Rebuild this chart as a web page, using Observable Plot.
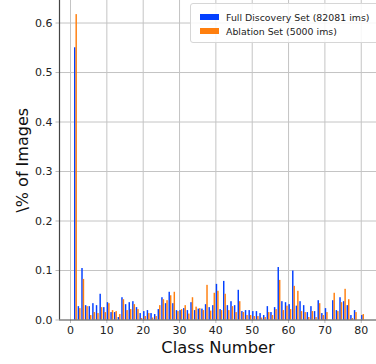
<!DOCTYPE html>
<html>
<head>
<meta charset="utf-8">
<script src="https://cdn.jsdelivr.net/npm/d3@7"></script>
<script src="https://cdn.jsdelivr.net/npm/@observablehq/plot@0.6"></script>
<style>
  html, body { margin: 0; padding: 0; background: #fff; overflow: hidden; }
  #wrap { position: relative; width: 376px; height: 364px; font-family: "DejaVu Sans", sans-serif; }
  #legend { position: absolute; left: 190px; top: 3px; width: 200px; height: 40px; box-sizing: border-box;
            border: 1px solid #d6d6d6; border-radius: 3px; background: rgba(255,255,255,0.85); }
  .item { position: absolute; left: 9px; height: 12px; display: flex; align-items: center; font-size: 9.4px; color: #222; white-space: nowrap; }
  .sw { width: 19px; height: 6px; margin-right: 7px; }
</style>
</head>
<body>
<div id="wrap"><div id="chart"></div><div id="legend"></div></div>
<script>
const classes = [1,2,3,4,5,6,7,8,9,10,11,12,13,14,15,16,17,18,19,20,
  21,22,23,24,25,26,27,28,29,30,31,32,33,34,35,36,37,38,39,40,
  41,42,43,44,45,46,47,48,49,50,51,52,53,54,55,56,57,58,59,60,
  61,62,63,64,65,66,67,68,69,70,71,72,73,74,75,76,77,78,79,80];
const fullSet = [0.550,0.027,0.104,0.029,0.027,0.033,0.029,0.052,0.025,0.035,
  0.015,0.015,0.005,0.045,0.031,0.035,0.037,0.025,0.013,0.017,
  0.019,0.013,0.011,0.021,0.045,0.033,0.056,0.033,0.019,0.019,
  0.023,0.019,0.035,0.019,0.022,0.022,0.031,0.025,0.029,0.072,
  0.021,0.078,0.029,0.037,0.029,0.060,0.017,0.019,0.019,0.017,
  0.017,0.013,0.009,0.027,0.015,0.025,0.106,0.037,0.035,0.031,
  0.099,0.028,0.037,0.029,0.015,0.027,0.017,0.039,0.013,0.023,
  0,0.039,0.019,0.045,0.037,0.029,0.009,0.019,0,0.009];
const ablationSet = [0.617,0.023,0.082,0.027,0.009,0.015,0.013,0.025,0.015,0.033,
  0.019,0.017,0.011,0.041,0.019,0.021,0.031,0.021,0.003,0.007,
  0.013,0.004,0.007,0.029,0.041,0.039,0.049,0.056,0.017,0.021,
  0.029,0.012,0.045,0.026,0.023,0.019,0.070,0.018,0.054,0.058,
  0.019,0.052,0.019,0.027,0.015,0.037,0.015,0.009,0.009,0.007,
  0.007,0.004,0.005,0.015,0.009,0.021,0.080,0.019,0.028,0.021,
  0.068,0.058,0.017,0.015,0.005,0.017,0.005,0.033,0.009,0.015,
  0,0.054,0.017,0.035,0.062,0.041,0.003,0.015,0,0.011];
const seriesNames = ["Full Discovery Set (82081 ims)", "Ablation Set (5000 ims)"];
const seriesColors = ["#0340ff", "#ff7f0e"];
const xTicks = [0,10,20,30,40,50,60,70,80];
const yTicks = [0,0.1,0.2,0.3,0.4,0.5,0.6];
const xDomain = [-3.03, 84.2];
const yDomain = [0, 0.6455];

const rows = [];
classes.forEach((c, i) => {
  rows.push({cls: c, k: 0, v: fullSet[i]});
  rows.push({cls: c, k: 1, v: ablationSet[i]});
});
const barW = 0.4;

const chart = Plot.plot({
  width: 376, height: 364,
  marginLeft: 59, marginRight: 0, marginTop: 0, marginBottom: 44.5,
  style: {fontFamily: "DejaVu Sans, sans-serif", fontSize: "11px", color: "#222", background: "transparent"},
  x: {domain: xDomain, ticks: xTicks},
  y: {domain: yDomain, ticks: yTicks},
  marks: [
    Plot.gridX(xTicks, {stroke: "#c4c4c4", strokeOpacity: 1, strokeWidth: 1}),
    Plot.gridY(yTicks.slice(1), {stroke: "#c4c4c4", strokeOpacity: 1, strokeWidth: 1}),
    Plot.rectY(rows, {
      x1: d => d.cls + 0.1 + d.k * barW,
      x2: d => d.cls + 0.1 + (d.k + 1) * barW,
      y1: 0, y2: "v",
      fill: d => seriesColors[d.k],
      inset: 0
    }),
    Plot.axisX(xTicks, {tickSize: 3.5, tickPadding: 3, stroke: "#bbb", fontSize: 11, label: null, fill: "#222"}),
    Plot.axisY(yTicks, {tickSize: 3.5, tickPadding: 3.5, stroke: "#bbb", fontSize: 11, label: null, fill: "#222", tickFormat: d3.format(".1f")}),
    Plot.ruleY([yDomain[0]], {stroke: "#444", strokeWidth: 1.2}),
    Plot.ruleX([xDomain[0]], {stroke: "#444", strokeWidth: 1.2}),
    Plot.text(["Class Number"], {frameAnchor: "bottom", dy: 28, lineAnchor: "middle", fontSize: 16.3, fill: "#111"}),
    Plot.text(["\\% of Images"], {frameAnchor: "left", dx: -37, rotate: -90, lineAnchor: "middle", textAnchor: "middle", fontSize: 16, fill: "#111"})
  ]
});
document.getElementById("chart").appendChild(chart);

const legend = document.getElementById("legend");
seriesNames.forEach((name, i) => {
  const item = document.createElement("div");
  item.className = "item";
  item.style.top = (7 + i * 14) + "px";
  const sw = document.createElement("div");
  sw.className = "sw";
  sw.style.background = seriesColors[i];
  item.appendChild(sw);
  const t = document.createElement("span");
  t.textContent = name;
  item.appendChild(t);
  legend.appendChild(item);
});
</script>
</body>
</html>
